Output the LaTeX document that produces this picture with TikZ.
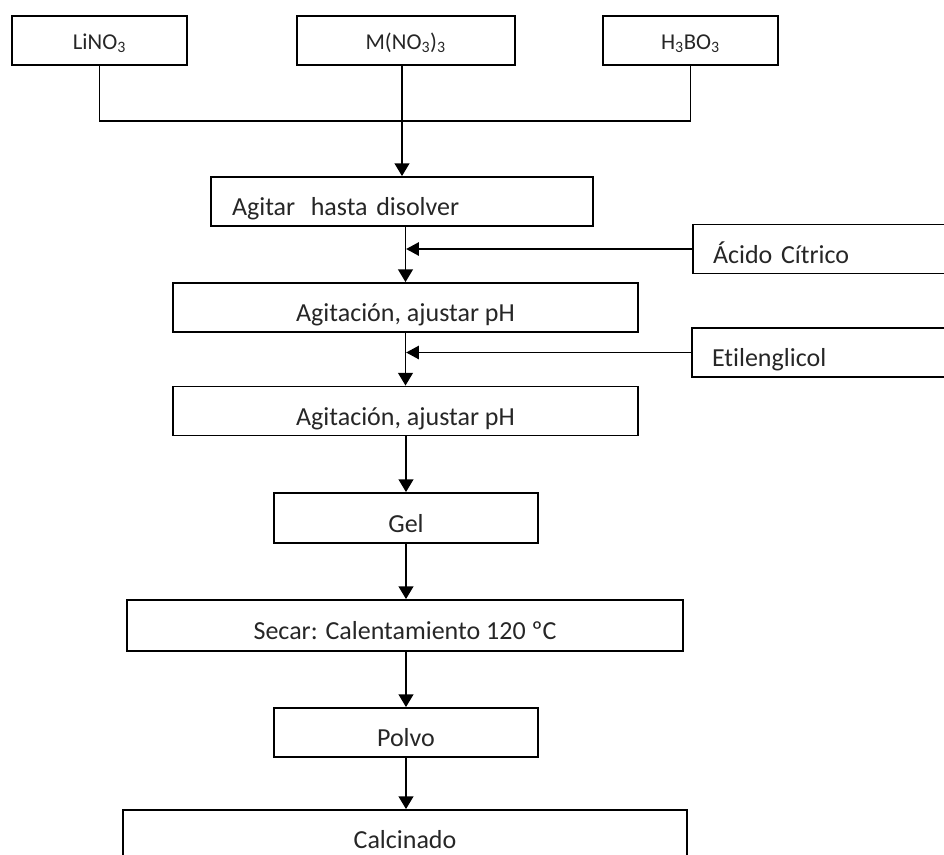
\documentclass[tikz,border=0pt]{standalone}
\usepackage{fontspec}
\setmainfont[Ligatures=NoCommon]{Carlito}
\usepackage{tikz}
\usetikzlibrary{arrows.meta}

\begin{document}
\begin{tikzpicture}[x=0.75pt, y=-0.75pt,
    procbox/.style={draw, line width=1.4pt, minimum height=36.75pt,
        text height=21pt, text depth=0pt, inner sep=0pt,
        font=\fontsize{19.5pt}{23pt}\selectfont, text=black!85},
    topbox/.style={procbox, text height=13.2pt,
        font=\fontsize{17pt}{20pt}\selectfont},
    sidebox/.style={procbox, inner xsep=15pt, text width=195pt, align=left},
    flow/.style={line width=1.4pt, -{Triangle[width=11pt, length=9.5pt]}},
    feed/.style={line width=1.1pt, -{Triangle[width=10pt, length=9.5pt]}}]
\useasboundingbox (0,0) rectangle (944,854);
\clip (0,0) rectangle (944,854);
% reactivos
    \node[topbox, minimum width=131.25pt] (lino) at (99.5,40.5) {LiNO\textsubscript{3}};
    \node[topbox, minimum width=163.5pt] (mno) at (405.7,40.5) {M(NO\textsubscript{3})\textsubscript{3}};
    \node[topbox, minimum width=131.25pt] (hbo) at (690.5,40.5) {H\textsubscript{3}BO\textsubscript{3}};
    \coordinate (bus) at (0,121);
    % proceso
    \node[procbox, inner xsep=15.75pt, text width=255pt, align=left] (disolver) at (402,201.5) {Agitar\hspace{0.6em}hasta disolver};
    \node[procbox, minimum width=348.75pt] (agit1) at (405.5,307.5) {Agitación, ajustar pH};
    \node[procbox, minimum width=348.75pt] (agit2) at (405.5,411) {Agitación, ajustar pH};
    \node[procbox, minimum width=198pt, minimum height=37.5pt] (gel) at (406,518) {Gel};
    \node[procbox, minimum width=417pt, minimum height=38.25pt] (secar) at (405,625.5) {Secar: Calentamiento 120 ºC};
    \node[procbox, minimum width=198pt] (polvo) at (406,732.5) {Polvo};
    \node[procbox, minimum width=423pt] (calc) at (405,834.5) {Calcinado};
    % aditivos
    \node[sidebox] (acido) at (843,249) {Ácido Cítrico};
    \node[sidebox] (etilen) at (842,352.5) {Etilenglicol};
    % conexiones
    \draw[line width=1.4pt] (lino.south) -- (lino.south |- bus) -- (hbo.south |- bus) -- (hbo.south);
    \draw[flow] (mno.south -| disolver.north) -- (disolver.north);
    \draw[flow] (disolver.south -| agit1.north) -- (agit1.north);
    \draw[flow] (agit1.south) -- (agit2.north);
    \draw[flow] (agit2.south -| gel.north) -- (gel.north);
    \draw[flow] (gel.south) -- (secar.north -| gel.south);
    \draw[flow] (secar.south -| polvo.north) -- (polvo.north);
    \draw[flow] (polvo.south) -- (calc.north -| polvo.south);
    \draw[feed] (acido.west) -- ([xshift=0.5pt]acido.west -| agit1.north);
    \draw[feed] (etilen.west) -- ([xshift=0.5pt]etilen.west -| agit2.north);
\end{tikzpicture}
\end{document}
